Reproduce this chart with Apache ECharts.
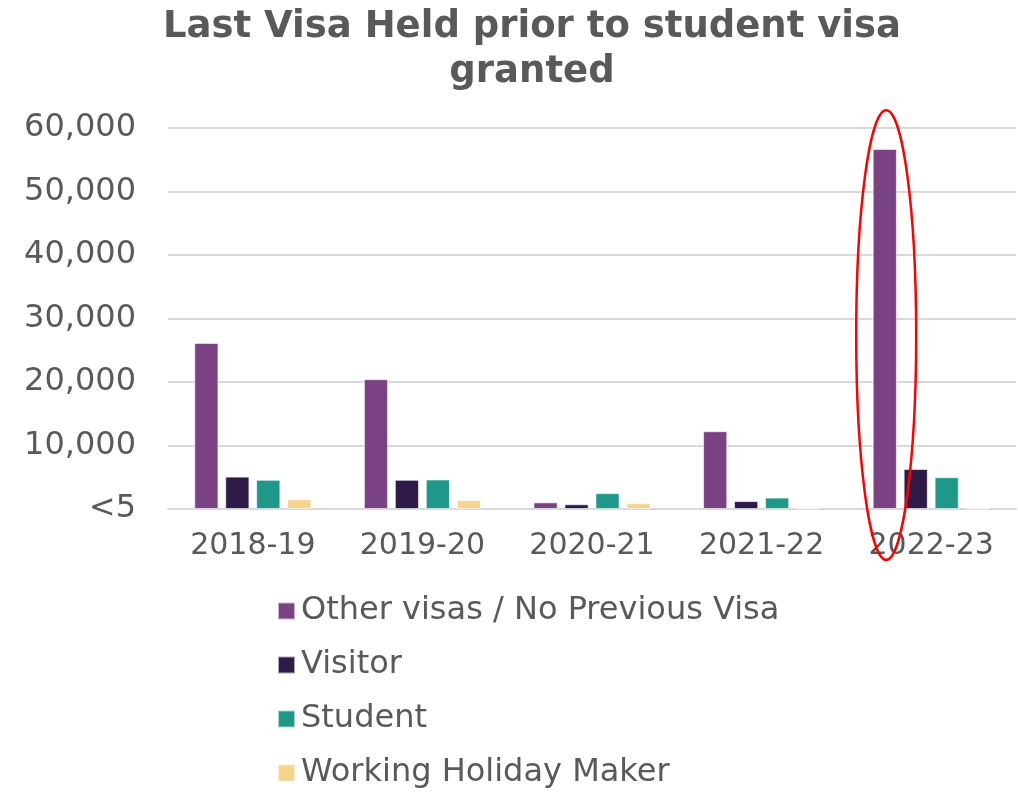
<!DOCTYPE html>
<html>
<head>
<meta charset="utf-8">
<script src="https://cdn.jsdelivr.net/npm/echarts@6/dist/echarts.min.js"></script>
<style>
  html, body { margin: 0; padding: 0; background: #fff; }
  #chart { width: 1018px; height: 792px; }
</style>
</head>
<body>
<div id="chart"></div>
<script>
var years = ['2018-19', '2019-20', '2020-21', '2021-22', '2022-23'];
var seriesNames = ['Other visas / No Previous Visa', 'Visitor', 'Student', 'Working Holiday Maker'];
var otherVisas = [26150, 20450, 1050, 12250, 56700];
var visitor = [5100, 4600, 750, 1250, 6300];
var student = [4600, 4650, 2500, 1800, 5000];
var workingHoliday = [1550, 1400, 900, 150, 120];
var colors = ['#7b4283', '#2e1b48', '#1f9889', '#f5d58b'];

(function() {
    var el = document.getElementById('chart');
    var chart = echarts.init(el, null, { renderer: 'canvas' });
    var font = 'Verdana, "DejaVu Sans", sans-serif';
    var grey = '#595959';

    var allData = [otherVisas, visitor, student, workingHoliday];
    var series = seriesNames.map(function(name, i) {
        return {
            name: name,
            type: 'bar',
            data: allData[i],
            barGap: '28%',
            barCategoryGap: '31%',
            itemStyle: { color: colors[i], borderColor: 'rgba(255,255,255,0.6)', borderWidth: 1 },
            animation: false
        };
    });

    chart.setOption({
        animation: false,
        title: {
            text: 'Last Visa Held prior to student visa\ngranted',
            left: 527,
            textAlign: 'center',
            top: 0,
            textStyle: { color: grey, fontFamily: font, fontWeight: 'bold', fontSize: 37, lineHeight: 45 }
        },
        legend: {
            orient: 'vertical',
            left: 272,
            top: 590,
            height: 260,
            itemWidth: 17,
            itemHeight: 17,
            itemGap: 22,
            icon: 'rect',
            data: seriesNames,
            textStyle: { color: grey, fontFamily: font, fontSize: 32, padding: [0, 0, 0, 1] }
        },
        grid: { left: 168, right: 2, top: 128, height: 381 },
        xAxis: {
            type: 'category',
            data: years,
            axisLine: { lineStyle: { color: '#d9d9d9', width: 2 } },
            axisTick: { show: false },
            axisLabel: { color: grey, fontFamily: font, fontSize: 30, margin: 22 }
        },
        yAxis: {
            type: 'value',
            min: 0,
            max: 60000,
            interval: 10000,
            axisLine: { show: false },
            axisTick: { show: false },
            splitLine: { lineStyle: { color: '#d9d9d9', width: 2 } },
            axisLabel: {
                color: grey,
                fontFamily: font,
                fontSize: 32,
                margin: 32,
                formatter: function(v) { return v === 0 ? '<5' : v.toLocaleString('en-US'); }
            }
        },
        series: series
    });

    // red ellipse highlighting 2022-23
    var c = chart.convertToPixel({ xAxisIndex: 0 }, '2022-23');
    var yTop = chart.convertToPixel({ yAxisIndex: 0 }, 62800);
    var yBot = chart.convertToPixel({ yAxisIndex: 0 }, -8000);
    chart.setOption({
        graphic: [{
            type: 'ellipse',
            shape: { cx: c - 45, cy: (yTop + yBot) / 2, rx: 30, ry: (yBot - yTop) / 2 },
            style: { fill: 'none', stroke: '#ff0000', lineWidth: 2.5 },
            z: 100
        }]
    });
})();
</script>
</body>
</html>
